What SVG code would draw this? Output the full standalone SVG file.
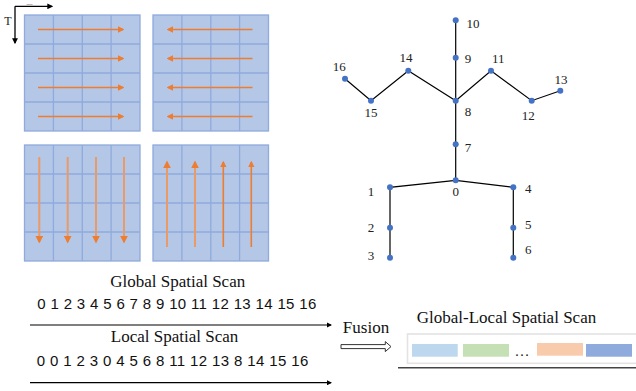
<svg xmlns="http://www.w3.org/2000/svg" width="636" height="391" viewBox="0 0 636 391">
  <style>
    .cell { fill: #B4C7E7; stroke: #8FAADC; stroke-width: 1.3; }
    .scan { stroke: #ED7D31; stroke-width: 1.6; fill: none; marker-end: url(#orangeHead); }
    .scan.pale { stroke: #E99A67; stroke-width: 2; }
    .bone { stroke: #000; stroke-width: 1.2; fill: none; }
    .joint { fill: #4472C4; }
    .lbl { font-family: "Liberation Serif", "Times New Roman", serif; font-size: 13px; fill: #222; text-anchor: middle; }
    .title { font-family: "Liberation Serif", "Times New Roman", serif; font-size: 17px; fill: #111; text-anchor: middle; }
    .seq { font-family: "Liberation Sans", Arial, sans-serif; font-size: 15px; fill: #111; }
    .axis { stroke: #000; stroke-width: 1.3; fill: none; marker-end: url(#blackHead); }
  </style>
  <defs>
    <marker id="orangeHead" viewBox="0 0 10 10" refX="8" refY="5" markerWidth="4" markerHeight="4" orient="auto" markerUnits="strokeWidth">
      <path d="M0,0 L10,5 L0,10 z" fill="#ED7D31"/>
    </marker>
    <marker id="blackHead" viewBox="0 0 10 10" refX="8" refY="5" markerWidth="4.5" markerHeight="4.5" orient="auto" markerUnits="strokeWidth">
      <path d="M0,0 L10,5 L0,10 z" fill="#000"/>
    </marker>
    <!-- 4x4 cell grid -->
    <g id="grid">
      <rect class="cell" x="0" y="0" width="115.5" height="116"/>
      <path d="M28.9,0 V116 M57.8,0 V116 M86.6,0 V116 M0,29 H115.5 M0,58 H115.5 M0,87 H115.5" stroke="#8FAADC" stroke-width="1.3"/>
    </g>
  </defs>

  <!-- axis indicator -->
  <g id="axes">
    <line class="axis" x1="15" y1="6.3" x2="52" y2="6.3"/>
    <line class="axis" x1="15" y1="6.3" x2="15" y2="43"/>
    <text x="8" y="25" class="lbl" style="font-size:12px">T</text>
    <text x="29.5" y="5.6" class="lbl" style="font-size:6px">—</text>
  </g>

  <!-- scan-order grids -->
  <g id="grid-rows-lr">
    <use href="#grid" x="24.5" y="15"/>
    <line class="scan" x1="38" y1="29.5" x2="123" y2="29.5"/>
    <line class="scan" x1="38" y1="58.5" x2="123" y2="58.5"/>
    <line class="scan" x1="38" y1="87.5" x2="123" y2="87.5"/>
    <line class="scan" x1="38" y1="116.5" x2="123" y2="116.5"/>
  </g>
  <g id="grid-rows-rl">
    <use href="#grid" x="153" y="15"/>
    <line class="scan" x1="252.5" y1="29.5" x2="168" y2="29.5"/>
    <line class="scan" x1="252.5" y1="58.5" x2="168" y2="58.5"/>
    <line class="scan" x1="252.5" y1="87.5" x2="168" y2="87.5"/>
    <line class="scan" x1="252.5" y1="116.5" x2="168" y2="116.5"/>
  </g>
  <g id="grid-cols-down">
    <use href="#grid" x="24.5" y="145"/>
    <line class="scan pale" x1="39.3" y1="157" x2="39.3" y2="242"/>
    <line class="scan pale" x1="67.7" y1="157" x2="67.7" y2="242"/>
    <line class="scan pale" x1="96" y1="157" x2="96" y2="242"/>
    <line class="scan pale" x1="124" y1="157" x2="124" y2="242"/>
  </g>
  <g id="grid-cols-up">
    <use href="#grid" x="153" y="145"/>
    <line class="scan pale" x1="167" y1="247" x2="167" y2="162"/>
    <line class="scan pale" x1="195" y1="247" x2="195" y2="162"/>
    <line class="scan" x1="223.3" y1="247" x2="223.3" y2="162"/>
    <line class="scan" x1="251.3" y1="247" x2="251.3" y2="162"/>
  </g>

  <!-- skeleton bones -->
  <g id="bones">
    <polyline class="bone" points="455.7,20.3 455.7,57.7 455.7,100.7 455.7,144.3 455.7,180.3"/>
    <polyline class="bone" points="345,78.7 371,100.7 408.3,70.7 455.7,100.7 491,70.7 531.7,100.7 560.3,90.7"/>
    <polyline class="bone" points="390,257.7 390,187.3 455.7,180.3 513.3,187.3 513.3,257.7"/>
  </g>

  <!-- skeleton joints -->
  <g id="joint-0"><circle class="joint" cx="455.7" cy="180.3" r="3"/><text class="lbl" x="455.7" y="196">0</text></g>
  <g id="joint-1"><circle class="joint" cx="390" cy="187.3" r="3"/><text class="lbl" x="371" y="196">1</text></g>
  <g id="joint-2"><circle class="joint" cx="390" cy="227.7" r="3"/><text class="lbl" x="371" y="232">2</text></g>
  <g id="joint-3"><circle class="joint" cx="390" cy="257.7" r="3"/><text class="lbl" x="371" y="259.5">3</text></g>
  <g id="joint-4"><circle class="joint" cx="513.3" cy="187.3" r="3"/><text class="lbl" x="528.3" y="192.5">4</text></g>
  <g id="joint-5"><circle class="joint" cx="513.3" cy="227.7" r="3"/><text class="lbl" x="528.3" y="228.5">5</text></g>
  <g id="joint-6"><circle class="joint" cx="513.3" cy="257.7" r="3"/><text class="lbl" x="528.3" y="254">6</text></g>
  <g id="joint-7"><circle class="joint" cx="455.7" cy="144.3" r="3"/><text class="lbl" x="468" y="152">7</text></g>
  <g id="joint-8"><circle class="joint" cx="455.7" cy="100.7" r="3"/><text class="lbl" x="468" y="116">8</text></g>
  <g id="joint-9"><circle class="joint" cx="455.7" cy="57.7" r="3"/><text class="lbl" x="468" y="63">9</text></g>
  <g id="joint-10"><circle class="joint" cx="455.7" cy="20.3" r="3"/><text class="lbl" x="473" y="28">10</text></g>
  <g id="joint-11"><circle class="joint" cx="491" cy="70.7" r="3"/><text class="lbl" x="498.3" y="62.7">11</text></g>
  <g id="joint-12"><circle class="joint" cx="531.7" cy="100.7" r="3"/><text class="lbl" x="528.3" y="120">12</text></g>
  <g id="joint-13"><circle class="joint" cx="560.3" cy="90.7" r="3"/><text class="lbl" x="561" y="84">13</text></g>
  <g id="joint-14"><circle class="joint" cx="408.3" cy="70.7" r="3"/><text class="lbl" x="406" y="62">14</text></g>
  <g id="joint-15"><circle class="joint" cx="371" cy="100.7" r="3"/><text class="lbl" x="371" y="117">15</text></g>
  <g id="joint-16"><circle class="joint" cx="345" cy="78.7" r="3"/><text class="lbl" x="339.3" y="71">16</text></g>

  <!-- scan sequences -->
  <g id="global-scan">
    <text class="title" x="177.7" y="287.3">Global Spatial Scan</text>
    <text class="seq" x="37.3" y="309" textLength="279" lengthAdjust="spacing">0 1 2 3 4 5 6 7 8 9 10 11 12 13 14 15 16</text>
  </g>
  <g id="local-scan">
    <text class="title" x="174.5" y="341.7">Local Spatial Scan</text>
    <text class="seq" x="36.7" y="366" textLength="271.6" lengthAdjust="spacing">0 0 1 2 3 0 4 5 6 8 11 12 13 8 14 15 16</text>
  </g>
  <g id="sequence-arrows">
    <line class="axis" x1="30" y1="325" x2="331" y2="325" style="stroke-width:1.2"/>
    <line class="axis" x1="30" y1="382.7" x2="331" y2="382.7" style="stroke-width:1.2"/>
  </g>

  <!-- fusion -->
  <g id="fusion">
    <text class="title" x="366" y="332.7">Fusion</text>
    <path d="M341,344.6 H385.3 V341.6 L391,346.6 L385.3,351.6 V348.6 H341 Z" fill="#fff" stroke="#333" stroke-width="1"/>
  </g>

  <!-- fused token sequence -->
  <g id="fused-scan">
    <text class="title" x="506.5" y="323.3">Global-Local Spatial Scan</text>
    <rect x="407.5" y="334" width="240" height="29.3" fill="#fff" stroke="#E3E3E3" stroke-width="1.6"/>
    <rect x="412" y="344" width="45.7" height="12.7" fill="#BDD7EE"/>
    <rect x="463" y="344" width="46" height="12.7" fill="#C5E0B4"/>
    <text x="522" y="356" class="lbl" style="font-size:15px">…</text>
    <rect x="537" y="343" width="46" height="12.7" fill="#F8CBAD"/>
    <rect x="586" y="344" width="46" height="12.7" fill="#8FAADC"/>
    <line x1="398" y1="367.7" x2="636" y2="367.7" stroke="#444" stroke-width="1.5"/>
  </g>
</svg>
